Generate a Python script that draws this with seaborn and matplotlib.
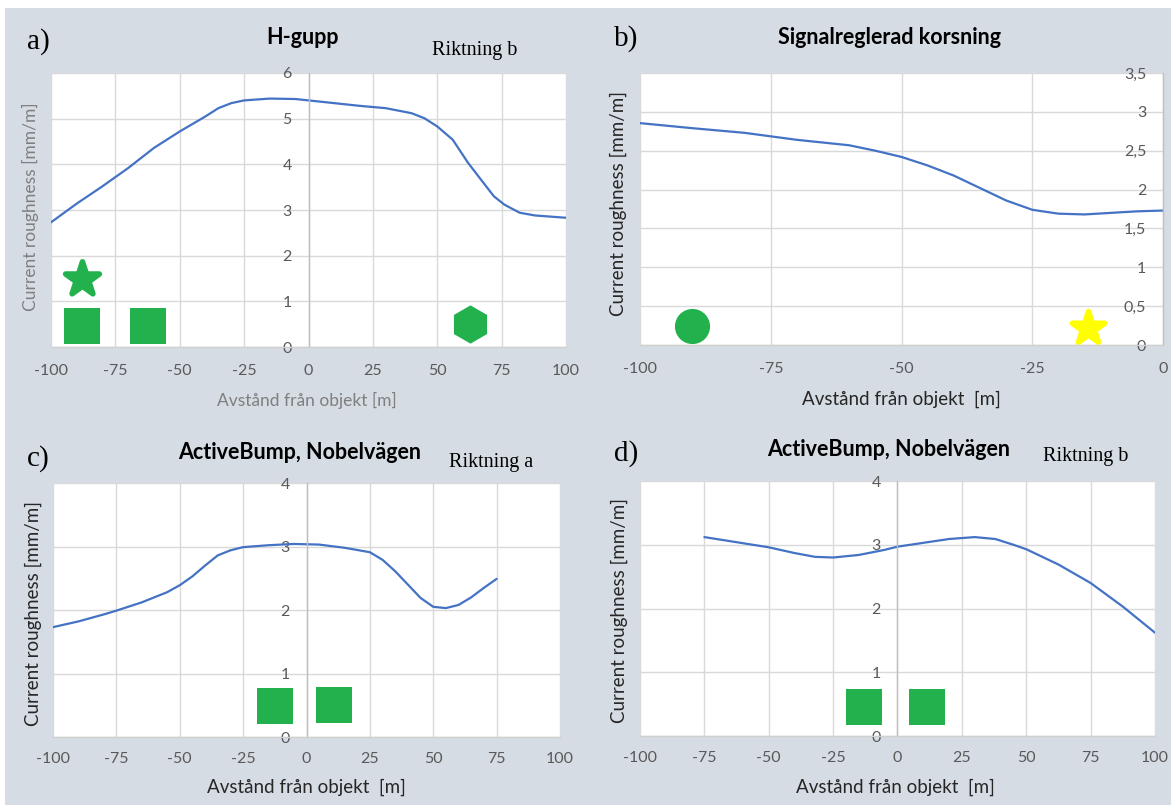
import matplotlib
matplotlib.use("Agg")
import matplotlib.pyplot as plt
from matplotlib.patches import Rectangle
import seaborn as sns
import pandas as pd

W, H = 1171, 805

# ---- data ----
a_x = [-100, -90, -80, -70, -60, -50, -40, -35, -30, -25, -15, -5, 0, 10, 20, 30, 40, 45, 50, 56, 62, 68, 72, 76, 82, 88, 100]
a_y = [2.73, 3.14, 3.52, 3.92, 4.36, 4.72, 5.05, 5.23, 5.34, 5.40, 5.44, 5.43, 5.40, 5.34, 5.28, 5.23, 5.12, 5.01, 4.83, 4.54, 4.03, 3.59, 3.30, 3.12, 2.94, 2.88, 2.83]

b_x = [-100, -90, -80, -70, -60, -55, -50, -45, -40, -35, -30, -25, -20, -15, -10, -5, 0]
b_y = [2.855, 2.79, 2.73, 2.64, 2.57, 2.50, 2.42, 2.31, 2.18, 2.02, 1.86, 1.74, 1.69, 1.68, 1.70, 1.72, 1.73]

c_x = [-100, -90, -80, -75, -65, -55, -50, -45, -40, -35, -30, -25, -15, -5, 5, 15, 25, 30, 35, 40, 45, 50, 55, 60, 65, 70, 75]
c_y = [1.73, 1.82, 1.93, 1.99, 2.12, 2.28, 2.39, 2.53, 2.70, 2.86, 2.94, 2.99, 3.02, 3.04, 3.03, 2.98, 2.91, 2.79, 2.61, 2.40, 2.19, 2.05, 2.03, 2.08, 2.20, 2.35, 2.49]

d_x = [-75, -62.5, -50, -40, -32, -25, -15, -5, 0, 10, 20, 30, 38, 45, 50, 62.5, 75, 87.5, 100]
d_y = [3.12, 3.04, 2.96, 2.87, 2.81, 2.80, 2.84, 2.92, 2.97, 3.03, 3.09, 3.12, 3.09, 3.00, 2.93, 2.69, 2.40, 2.03, 1.62]

# object symbols (x, y)
a_star = ([-88], [1.49])
a_squares = ([-88, -62.5], [0.46, 0.47])
a_hexagon = ([62.8], [0.5])
b_circle = ([-90], [0.245])
b_star = ([-14.4], [0.22])
c_squares = ([-12.6, 10.8], [0.49, 0.51])
d_squares = ([-13.2, 11.3], [0.45, 0.45])

xticks_full = [-100, -75, -50, -25, 0, 25, 50, 75, 100]
xticks_b = [-100, -75, -50, -25, 0]
yticks_a = [0, 1, 2, 3, 4, 5, 6]
yticks_b = [0, 0.5, 1, 1.5, 2, 2.5, 3, 3.5]
yticklabels_b = ["0", "0,5", "1", "1,5", "2", "2,5", "3", "3,5"]
yticks_cd = [0, 1, 2, 3, 4]

ylabel = "Current roughness [mm/m]"
xlabel = "Avstånd från objekt [m]"
xlabel_wide = "Avstånd från objekt  [m]"

LINE = "#4472c4"
GREEN = "#22b14c"
YELLOW = "#ffff00"
BG = "#d6dce4"
TICK = "#595959"

sns.set_theme(style="whitegrid")
plt.rcParams["font.family"] = ["Lato", "DejaVu Sans"]

fig = plt.figure(figsize=(W / 100, H / 100), dpi=100)
fig.patch.set_facecolor("white")
fig.add_artist(Rectangle((5 / W, 0), 1, 1 - 8 / H, transform=fig.transFigure,
                         facecolor=BG, edgecolor="none", zorder=-10))


def px_rect(l, r, t, b):
    return [l / W, 1 - b / H, (r - l) / W, (b - t) / H]


def panel(rect, xs, ys, xlim, xticks, ylim, yticks, yticklabels, label_color,
          xlab, xlab_pos, ylab_pos, xpad, labsize):
    ax = fig.add_axes(px_rect(*rect))
    ax.set_facecolor("white")
    df = pd.DataFrame({"x": xs, "y": ys})
    sns.lineplot(data=df, x="x", y="y", ax=ax, color=LINE, linewidth=1.6)
    ax.set_xlim(*xlim)
    ax.set_ylim(*ylim)
    ax.set_xticks(xticks)
    ax.set_xticklabels([str(t) for t in xticks])
    ax.set_yticks(yticks)
    ax.set_yticklabels(yticklabels)
    ax.grid(True, color="#d9d9d9", linewidth=1)
    for s in ["top", "right"]:
        ax.spines[s].set_visible(False)
    ax.spines["left"].set_position(("data", 0))
    ax.spines["left"].set_color("#bfbfbf")
    ax.spines["left"].set_linewidth(1)
    ax.spines["bottom"].set_color("#d0d0d0")
    ax.spines["bottom"].set_linewidth(1)
    ax.tick_params(axis="y", length=0, pad=12, labelsize=11.5, labelcolor=TICK)
    ax.tick_params(axis="x", length=0, pad=xpad, labelsize=11.5, labelcolor=TICK)
    ax.set_xlabel(xlab, fontsize=labsize, color=label_color)
    ax.set_ylabel(ylabel, fontsize=labsize, color=label_color)
    ax.xaxis.label.set_va("center")
    ax.yaxis.label.set_va("center")
    ax.xaxis.set_label_coords(xlab_pos[0] / W, 1 - xlab_pos[1] / H, transform=fig.transFigure)
    ax.yaxis.set_label_coords(ylab_pos[0] / W, 1 - ylab_pos[1] / H, transform=fig.transFigure)
    return ax


def head(letter, lpos, title, tpos, direction=None, dpos=None):
    fig.text(lpos[0] / W, 1 - lpos[1] / H, letter, family="Liberation Serif",
             fontsize=21, ha="center", va="center", color="black")
    fig.text(tpos[0] / W, 1 - tpos[1] / H, title, fontsize=15.5, fontweight="bold",
             ha="center", va="center", color="black")
    if direction:
        fig.text(dpos[0] / W, 1 - dpos[1] / H, direction, family="Liberation Serif",
                 fontsize=14.5, ha="center", va="center", color="black")


# a) H-gupp
ax = panel((51, 566, 73, 347), a_x, a_y, (-100, 100), xticks_full, (0, 6), yticks_a,
           [str(t) for t in yticks_a], "#7f7f7f", xlabel, (307, 400), (30, 207), 12, 12.5)
sns.scatterplot(x=a_star[0], y=a_star[1], ax=ax, marker="*", s=650, color=GREEN,
                edgecolor=GREEN, linewidth=4)
sns.scatterplot(x=a_squares[0], y=a_squares[1], ax=ax, marker="s", s=680, color=GREEN, linewidth=0)
sns.scatterplot(x=a_hexagon[0], y=a_hexagon[1], ax=ax, marker="h", s=760, color=GREEN, linewidth=0)
head("a)", (38, 42), "H-gupp", (303, 38), "Riktning b", (475, 51))

# b) Signalreglerad korsning
ax = panel((640, 1163, 73, 345), b_x, b_y, (-100, 0), xticks_b, (0, 3.5), yticks_b,
           yticklabels_b, "#262626", xlabel_wide, (901, 399), (618, 203), 12, 13.5)
sns.scatterplot(x=b_circle[0], y=b_circle[1], ax=ax, marker="o", s=640, color=GREEN, linewidth=0)
sns.scatterplot(x=b_star[0], y=b_star[1], ax=ax, marker="*", s=600, color=YELLOW,
                edgecolor=YELLOW, linewidth=4)
head("b)", (626, 39), "Signalreglerad korsning", (890, 38))

# c) ActiveBump, Riktning a
ax = panel((53, 560, 483, 737), c_x, c_y, (-100, 100), xticks_full, (0, 4), yticks_cd,
           [str(t) for t in yticks_cd], "#262626", xlabel_wide, (306, 787), (33, 613), 11, 13.5)
sns.scatterplot(x=c_squares[0], y=c_squares[1], ax=ax, marker="s", s=680, color=GREEN, linewidth=0)
head("c)", (38, 459), "ActiveBump, Nobelvägen", (300, 452), "Riktning a", (491, 462))

# d) ActiveBump, Riktning b
ax = panel((640, 1155, 481, 736), d_x, d_y, (-100, 100), xticks_full, (0, 4), yticks_cd,
           [str(t) for t in yticks_cd], "#262626", xlabel_wide, (895, 787), (619, 610), 11, 13.5)
sns.scatterplot(x=d_squares[0], y=d_squares[1], ax=ax, marker="s", s=680, color=GREEN, linewidth=0)
head("d)", (626, 454), "ActiveBump, Nobelvägen", (889, 449), "Riktning b", (1086, 456))

fig.savefig("out.png", dpi=100, facecolor=fig.get_facecolor())
